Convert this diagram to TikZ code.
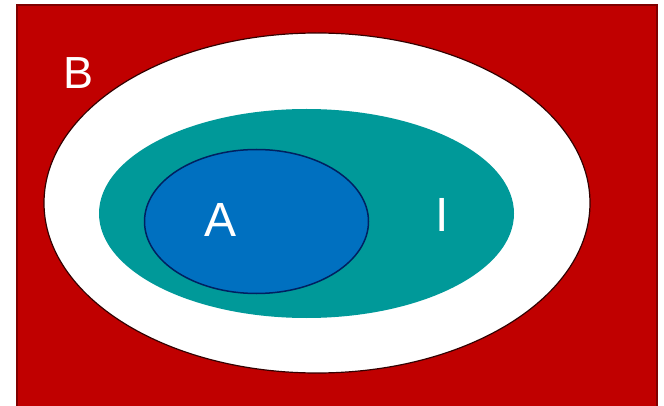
\documentclass[tikz,border=0pt]{standalone}
\usepackage{fontspec}
\setmainfont{Liberation Sans}
\definecolor{bred}{HTML}{C00000}
\definecolor{bredline}{HTML}{7F0000}
\definecolor{iteal}{HTML}{009999}
\definecolor{ablue}{HTML}{0070C0}
\definecolor{anavy}{HTML}{002060}
\tikzset{lbl/.style={text=white,inner sep=0pt}}
\begin{document}
\begin{tikzpicture}[x=1pt,y=-1pt]
\useasboundingbox (0,0) rectangle (664,406);
\begin{scope}
\clip (0,0) rectangle (664,406);
\fill[bred,draw=bredline,line width=2pt] (16.5,5.5) rectangle (657,412);
\end{scope}
\filldraw[fill=white,draw=black!80!red,line width=1.2pt] (317,203) ellipse [x radius=273, y radius=170];
\fill[iteal] (306.5,213.5) ellipse [x radius=207.5, y radius=104.5];
\filldraw[fill=ablue,draw=anavy,line width=1.5pt] (256.5,221.5) ellipse [x radius=112, y radius=72];
\node[lbl,font=\fontsize{45}{45}\selectfont] (B) at (79,73) {B};
\node[lbl,font=\fontsize{48}{48}\selectfont] (A) at (220.5,219.5) {A};
\node[lbl,font=\fontsize{48}{48}\selectfont] (I) at (442.5,215) {I};
\end{tikzpicture}
\end{document}
